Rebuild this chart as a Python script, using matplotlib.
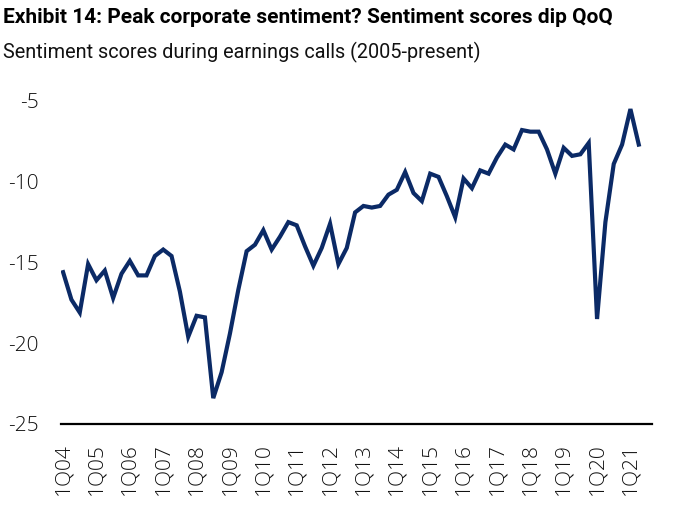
import matplotlib
matplotlib.use("Agg")
import matplotlib.pyplot as plt

# quarterly sentiment scores, 1Q04 .. 2Q21
quarters = [f"{q}Q{y:02d}" for y in range(4, 22) for q in range(1, 5)][:70]
scores = [
    -15.6, -17.3, -18.1, -15.1, -16.1, -15.5, -17.2, -15.7,
    -14.9, -15.8, -15.8, -14.6, -14.2, -14.6, -16.8, -19.6,
    -18.3, -18.4, -23.4, -21.8, -19.4, -16.7, -14.3, -13.9,
    -13.0, -14.2, -13.4, -12.5, -12.7, -14.0, -15.2, -14.1,
    -12.6, -15.1, -14.1, -11.9, -11.5, -11.6, -11.5, -10.8,
    -10.5, -9.4, -10.7, -11.2, -9.5, -9.7, -10.9, -12.2,
    -9.8, -10.4, -9.3, -9.5, -8.5, -7.7, -8.0, -6.8,
    -6.9, -6.9, -8.0, -9.5, -7.9, -8.4, -8.3, -7.6,
    -18.5, -12.5, -8.9, -7.7, -5.5, -7.7,
]
yticks = [-5, -10, -15, -20, -25]

TITLE = "Exhibit 14: Peak corporate sentiment? Sentiment scores dip QoQ"
SUBTITLE = "Sentiment scores during earnings calls (2005-present)"
NAVY = "#0b2a66"
FONT = ["Roboto", "DejaVu Sans"]

fig = plt.figure(figsize=(6.8, 5.08), dpi=100)
ax = fig.add_axes([0.0897, 0.1654, 0.8693, 0.6676])

x = list(range(len(scores)))
ax.plot(x, scores, color=NAVY, lw=3.0, solid_joinstyle="miter")

ax.set_xlim(-0.25, 70.6)
ax.set_ylim(-25, -4)
ax.set_yticks(yticks)
ax.set_yticklabels([str(v) for v in yticks])
ax.set_xticks(x[::4])
ax.set_xticklabels(quarters[::4], rotation=90)

for s in ["top", "right", "left"]:
    ax.spines[s].set_visible(False)
ax.spines["bottom"].set_linewidth(1.6)
ax.spines["bottom"].set_color("black")
ax.tick_params(axis="both", length=0, labelsize=15)
ax.tick_params(axis="y", pad=16)
ax.tick_params(axis="x", pad=14)
for lab in ax.get_xticklabels() + ax.get_yticklabels():
    lab.set_family(["Open Sans", "DejaVu Sans"])
    lab.set_fontweight("light")
    lab.set_color("#111111")

fig.text(0.004, 0.966, TITLE, fontsize=15, fontweight="bold",
         family=FONT, va="center", ha="left", color="black")
fig.text(0.004, 0.897, SUBTITLE, fontsize=14.3, fontweight="normal",
         family=FONT, va="center", ha="left", color="#111111")

fig.savefig("out.png", dpi=100)
